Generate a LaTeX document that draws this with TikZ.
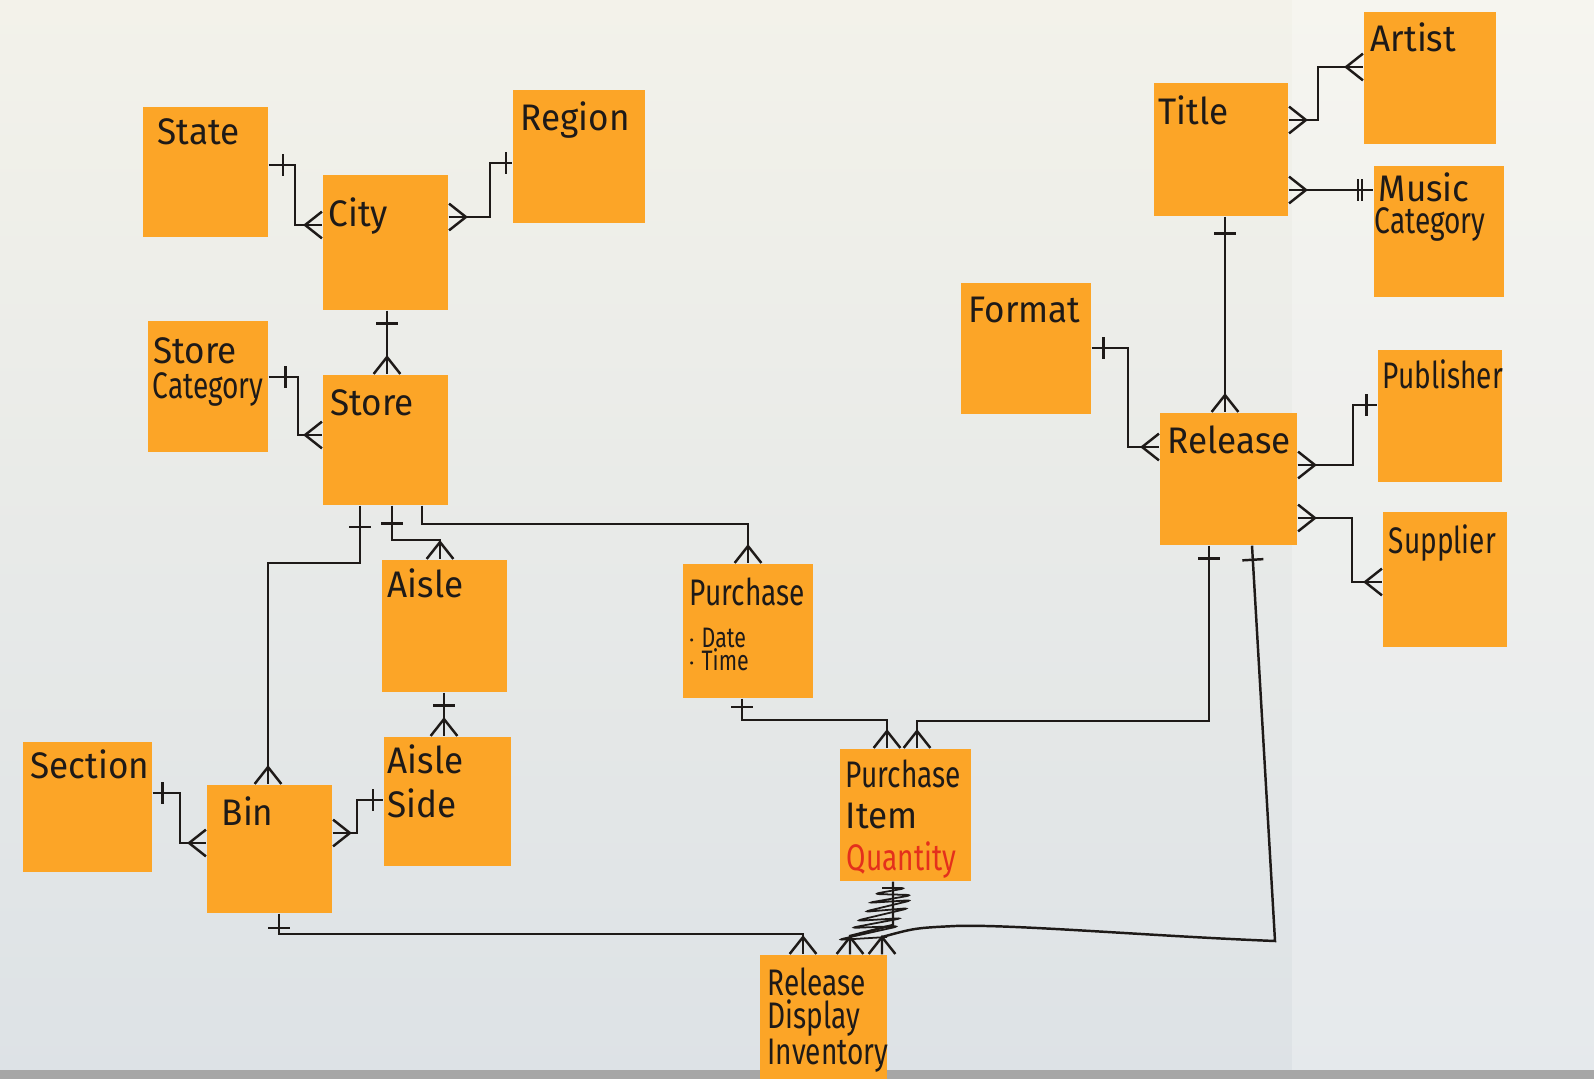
\documentclass[tikz,border=0pt]{standalone}
\usepackage{fontspec}
\newfontfamily\hand[FakeStretch=0.95]{Fira Sans}
\newfontfamily\handn[FakeStretch=0.76]{Fira Sans}
\usetikzlibrary{fit,decorations.markings}

\definecolor{paper}{HTML}{DDE2E6}
\definecolor{papertop}{HTML}{F3F2EA}
\definecolor{postit}{HTML}{FCA527}
\definecolor{ink}{HTML}{1E1A18}
\definecolor{qty}{HTML}{E4301C}

\tikzset{
  note/.style={fill=postit, inner sep=0pt},
  lbl/.style={anchor=base west, inner sep=0pt, text=ink, font=\hand\fontsize{10.5}{12}\selectfont},
  lbln/.style={lbl, font=\handn\fontsize{10.5}{12}\selectfont},
  lblthin/.style={lbl, font=\handn\fontsize{10.5}{12}\selectfont},
  lblsmall/.style={lbl, font=\handn\fontsize{8}{10}\selectfont},
  link/.style={draw=ink, line width=0.7pt},
  one start/.style={postaction={decorate,decoration={markings,
      mark=at position #1 with {\draw[ink,line width=0.7pt] (0pt,-3pt) -- (0pt,3pt);}}}},
  one start/.default=4pt,
  one end/.style={postaction={decorate,decoration={markings,
      mark=at position -#1 with {\draw[ink,line width=0.7pt] (0pt,-3pt) -- (0pt,3pt);}}}},
  one end/.default=3pt,
  many start/.style={postaction={decorate,decoration={markings,
      mark=at position 0.1pt with {\draw[ink,line width=0.7pt] (0pt,-3.8pt) -- (4.8pt,0pt) -- (0pt,3.8pt);}}}},
  many end/.style={postaction={decorate,decoration={markings,
      mark=at position -0.1pt with {\draw[ink,line width=0.7pt] (0pt,-3.8pt) -- (-4.8pt,0pt) -- (0pt,3.8pt);}}}},
}

\begin{document}
\begin{tikzpicture}[x=0.01cm,y=-0.01cm]
  \useasboundingbox (0,0) rectangle (1594,1079);
  % the paper on the wall
  \shade[top color=papertop, bottom color=paper] (0,0) rectangle (1594,1079);
  \fill[white, opacity=0.25] (1292,0) rectangle (1594,1079);
  \fill[black!35] (0,1070) rectangle (1594,1079);

  % sticky notes, left group
  \node[note, fit={(143,107) (268,237)}] (state) {};
  \node[note, fit={(323,175) (448,310)}] (city) {};
  \node[note, fit={(513,90) (645,223)}] (region) {};
  \node[note, fit={(148,321) (268,452)}] (storecat) {};
  \node[note, fit={(323,375) (448,505)}] (store) {};
  \node[note, fit={(382,560) (507,692)}] (aisle) {};
  \node[note, fit={(384,737) (511,866)}] (aisleside) {};
  \node[note, fit={(23,742) (152,872)}] (section) {};
  \node[note, fit={(207,785) (332,913)}] (bin) {};
  % middle
  \node[note, fit={(683,564) (813,698)}] (purchase) {};
  \node[note, fit={(840,749) (971,881)}] (pitem) {};
  \node[note, fit={(760,955) (887,1079)}] (rdi) {};
  % right group
  \node[note, fit={(961,283) (1091,414)}] (format) {};
  \node[note, fit={(1154,83) (1288,216)}] (title) {};
  \node[note, fit={(1364,12) (1496,144)}] (artist) {};
  \node[note, fit={(1374,166) (1504,297)}] (musiccat) {};
  \node[note, fit={(1160,413) (1297,545)}] (release) {};
  \node[note, fit={(1378,350) (1502,482)}] (publisher) {};
  \node[note, fit={(1383,512) (1507,647)}] (supplier) {};

  % handwriting
  \node[lbl] (state-t) at (157,145) {State};
  \node[lbl] (city-t) at (328,226) {City};
  \node[lbl] (region-t) at (520,130) {Region};
  \node[lbl] (storecat-a) at (153,363) {Store};
  \node[lbln] (storecat-b) at (152,398) {Category};
  \node[lbl] (store-t) at (330,415) {Store};
  \node[lbl] (aisle-t) at (387,597) {Aisle};
  \node[lbl] (aisleside-a) at (387,773) {Aisle};
  \node[lbl] (aisleside-b) at (387,817) {Side};
  \node[lbl] (section-t) at (30,778) {Section};
  \node[lbl] (bin-t) at (221,825) {Bin};
  \node[lblthin] (purchase-t) at (689,605) {Purchase};
  \node[lblsmall] (purchase-a) at (687,647) {$\cdot$ Date};
  \node[lblsmall] (purchase-b) at (687,670) {$\cdot$ Time};
  \node[lbln] (pitem-a) at (845,787) {Purchase};
  \node[lbl] (pitem-b) at (845,828) {Item};
  \node[lbln, text=qty] (pitem-c) at (846,870) {Quantity};
  \node[lbln] (rdi-a) at (767,995) {Release};
  \node[lbln] (rdi-b) at (767,1028) {Display};
  \node[lbln] (rdi-c) at (767,1064) {Inventory};
  \node[lbl] (format-t) at (968,322) {Format};
  \node[lbl] (title-t) at (1158,125) {Title};
  \node[lbl] (artist-t) at (1370,52) {Artist};
  \node[lbl] (musiccat-a) at (1378,202) {Music};
  \node[lbln] (musiccat-b) at (1374,234) {Category};
  \node[lbl] (release-t) at (1167,453) {Release};
  \node[lbln] (publisher-t) at (1382,388) {Publisher};
  \node[lbln] (supplier-t) at (1388,553) {Supplier};

  % relationships, store side
  \draw[link, one start, many end] (state.east |- 0,165) -| (295,225) -- (city.west |- 0,225);
  \draw[link, many start, one end=1.8pt] (city.east |- 0,217) -| (490,163) -- (region.west |- 0,163);
  \draw[link, one start=3.7pt, many end] (city.south -| 387,0) -- (store.north -| 387,0);
  \draw[link, one start=4.8pt, many end] (storecat.east |- 0,377) -| (298,435) -- (store.west |- 0,435);
  \draw[link, one start=6pt, many end] (store.south -| 360,0) |- (268,563) -- (bin.north -| 268,0);
  \draw[link, one start=5pt, many end] (store.south -| 392,0) |- (440,540) -- (aisle.north -| 440,0);
  \draw[link, many end] (store.south -| 422,0) |- (748,524) -- (purchase.north -| 748,0);
  \draw[link, one start=3.7pt, many end] (aisle.south -| 444,0) -- (aisleside.north -| 444,0);
  \draw[link, one start=2.8pt, many end] (section.east |- 0,793) -| (180,843) -- (bin.west |- 0,843);
  \draw[link, many start, one end=3pt] (bin.east |- 0,833) -| (357,800) -- (aisleside.west |- 0,800);
  \draw[link, one start=4pt, many end] (bin.south -| 279,0) |- (803,934) -- (rdi.north -| 803,0);

  % purchases
  \draw[link, one start=2.3pt, many end] (purchase.south -| 742,0) |- (887,720) -- (pitem.north -| 887,0);
  \draw[link, one start=3.7pt, many end] (release.south -| 1209,0) |- (917,721) -- (pitem.north -| 917,0);
  \draw[link, one start=4pt, many end] (release.south -| 1252,0) -- (1275,941)
    .. controls (1150,936) and (1010,924) .. (955,926) .. controls (915,928) .. (882,937)
    -- (rdi.north -| 882,0);
  \draw[link, many end] (pitem.south -| 893,0) -- (893,925) -- (850,936) -- (rdi.north -| 850,0);
  % scribbled-over marks under Purchase Item
  \draw[link, line width=0.5pt, rounded corners=2pt] (882,888) -- (907,888) -- (873,894) -- (913,895)
    -- (867,903) -- (913,900) -- (863,912) -- (910,908) -- (855,921) -- (903,918) -- (850,928)
    -- (900,926) -- (837,940) -- (887,937);

  % relationships, music side
  \draw[link, many start, many end] (title.east |- 0,120) -| (1318,67) -- (artist.west |- 0,67);
  \draw[link, many start, one end=4.3pt, one end=3.2pt] (title.east |- 0,190) -- (musiccat.west |- 0,190);
  \draw[link, one start=4.8pt, many end] (title.south -| 1225,0) -- (release.north -| 1225,0);
  \draw[link, one start=3.4pt, many end] (format.east |- 0,348) -| (1128,447) -- (release.west |- 0,447);
  \draw[link, many start, one end=3.1pt] (release.east |- 0,465) -| (1353,405) -- (publisher.west |- 0,405);
  \draw[link, many start, many end] (release.east |- 0,518) -| (1352,582) -- (supplier.west |- 0,582);
\end{tikzpicture}
\end{document}
